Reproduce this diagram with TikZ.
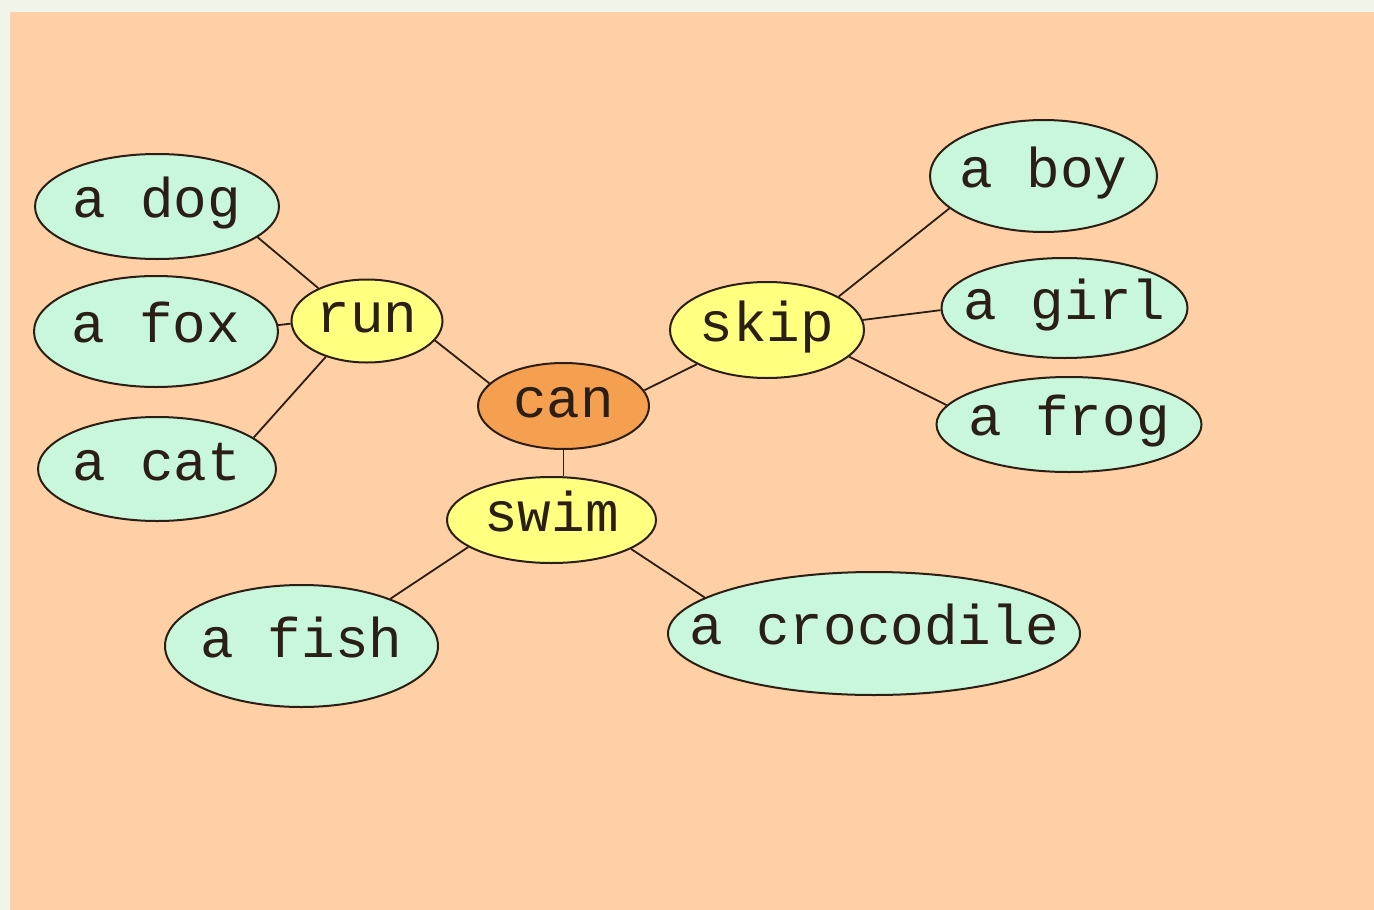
\documentclass[tikz,border=0pt]{standalone}
\usepackage{xcolor}
\usepackage{fontspec}
\newfontfamily\monofont{Liberation Mono}
\usepackage{tikz}
\usetikzlibrary{shapes.geometric}

\definecolor{peach}{HTML}{FFD0A5}
\definecolor{pale}{HTML}{F1F4E8}
\definecolor{mint}{HTML}{C8F7DC}
\definecolor{lemon}{HTML}{FFFF80}
\definecolor{tangerine}{HTML}{F5A050}
\definecolor{ink}{HTML}{2B1E14}
\newcommand{\wordtext}[1]{\makebox[0pt]{#1}}

\begin{document}
\begin{tikzpicture}[x=1pt,y=-1pt,
  word/.style={ellipse,draw=ink,line width=2pt,inner sep=0pt,text=ink,
    font=\monofont\fontsize{56}{56}\selectfont,text height=22pt,text depth=0pt},
  sz/.style 2 args={minimum width=#1pt,minimum height=#2pt},
  noun/.style={word,fill=mint},
  verb/.style={word,fill=lemon},
  hub/.style={word,fill=tangerine}]
  \useasboundingbox (0,0) rectangle (1374,910);
  \fill[pale] (0,0) rectangle (1374,910);
  \fill[peach] (10,12) rectangle (1374,910);

  % centre and verbs
  \node[hub,sz={171}{86}] (can) at (563.5,406) {\wordtext{can}};
  \node[verb,sz={151}{83}] (run) at (367,321) {\wordtext{run}};
  \node[verb,sz={194}{96}] (skip) at (767,330) {\wordtext{skip}};
  \node[verb,sz={209}{86}] (swim) at (551.5,520) {\wordtext{swim}};

  % who does it
  \node[noun,sz={244}{105}] (adog) at (157,206.5) {\wordtext{a dog}};
  \node[noun,sz={244}{111}] (afox) at (156,331.5) {\wordtext{a fox}};
  \node[noun,sz={238}{104}] (acat) at (157,469) {\wordtext{a cat}};
  \node[noun,sz={227}{112}] (aboy) at (1043.5,176) {\wordtext{a boy}};
  \node[noun,sz={246}{100}] (agirl) at (1064.5,308) {\wordtext{a girl}};
  \node[noun,sz={265}{95}] (afrog) at (1069,424.5) {\wordtext{a frog}};
  \node[noun,sz={273}{122}] (afish) at (301.5,646) {\wordtext{a fish}};
  \node[noun,sz={412}{123}] (acroc) at (874,633.5) {\wordtext{a crocodile}};

  \path[draw=ink,line width=1.8pt]
    (adog.-17.3) edge (run.146)
    (afox.3) edge (run.182)
    (acat.18) edge (run.221.3)
    (run.-16) edge (can.163)
    (skip.206.6) edge (can.11.2)
    (skip.25.6) edge (aboy.199.8)
    (skip.6.5) edge (agirl.181.9)
    (skip.-18.9) edge (afrog.171)
    (can.south) edge (can.south |- swim.north)
    (swim.198) edge (afish.28.7)
    (swim.-20.4) edge (acroc.168.6);
\end{tikzpicture}
\end{document}
